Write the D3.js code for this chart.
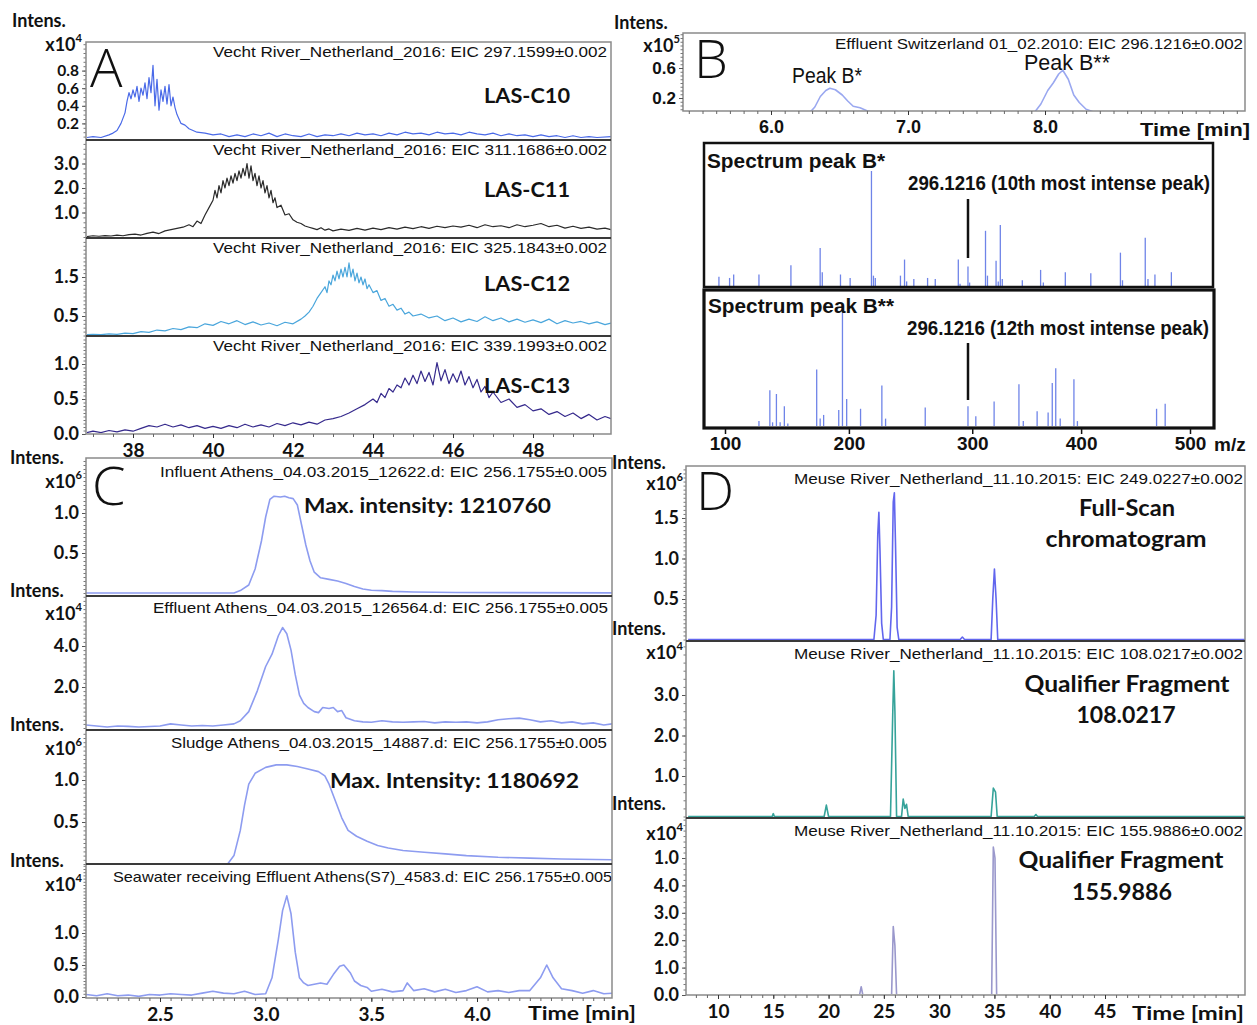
<!DOCTYPE html>
<html><head><meta charset="utf-8">
<script src="https://cdn.jsdelivr.net/npm/d3@7"></script>
<style>body{margin:0;background:#fff}svg{display:block}</style>
</head><body><svg id="c" width="1257" height="1025"></svg>
<script>
// ================= DATA =================
// Panel A: LAS homologues, time [min], intensity [x10^4]
const A_xTicks=[38,40,42,44,46,48];
const A_titles=["Vecht River_Netherland_2016:  EIC 297.1599\u00b10.002","Vecht River_Netherland_2016:  EIC 311.1686\u00b10.002","Vecht River_Netherland_2016:  EIC 325.1843\u00b10.002","Vecht River_Netherland_2016:  EIC 339.1993\u00b10.002"];
const A_names=["LAS-C10","LAS-C11","LAS-C12","LAS-C13"];
const A_C10_ticks=[0.2,0.4,0.6,0.8], A_C10_labels=["0.2","0.4","0.6","0.8"];
const A_C11_ticks=[1,2,3], A_C11_labels=["1.0","2.0","3.0"];
const A_C12_ticks=[0.5,1.5], A_C12_labels=["0.5","1.5"];
const A_C13_ticks=[0,0.5,1], A_C13_labels=["0.0","0.5","1.0"];
const A_C10=[[36.85,0.04],[37.0,0.05],[37.2,0.04],[37.4,0.07],[37.5,0.09],[37.6,0.12],[37.7,0.2],[37.8,0.32],[37.85,0.45],[37.9,0.55],[37.95,0.48],[38.0,0.58],[38.05,0.5],[38.1,0.62],[38.15,0.45],[38.2,0.6],[38.25,0.52],[38.3,0.66],[38.35,0.48],[38.4,0.72],[38.45,0.55],[38.5,0.86],[38.55,0.4],[38.6,0.7],[38.65,0.35],[38.7,0.58],[38.75,0.45],[38.8,0.62],[38.85,0.42],[38.9,0.64],[38.95,0.4],[39.0,0.5],[39.05,0.38],[39.1,0.3],[39.2,0.2],[39.3,0.18],[39.4,0.14],[39.5,0.12],[39.6,0.1],[39.8,0.09],[40.0,0.07],[40.2,0.08],[40.4,0.05],[40.6,0.07],[40.8,0.05],[41.0,0.08],[41.2,0.06],[41.4,0.09],[41.6,0.05],[41.8,0.08],[42.0,0.06],[42.2,0.05],[42.4,0.08],[42.6,0.05],[42.8,0.07],[43.0,0.06],[43.2,0.08],[43.4,0.06],[43.6,0.09],[43.8,0.07],[44.0,0.08],[44.2,0.06],[44.4,0.09],[44.6,0.07],[44.8,0.1],[45.0,0.08],[45.2,0.09],[45.4,0.07],[45.6,0.1],[45.8,0.08],[46.0,0.09],[46.2,0.07],[46.4,0.1],[46.6,0.08],[46.8,0.07],[47.0,0.09],[47.2,0.06],[47.4,0.08],[47.6,0.06],[47.8,0.07],[48.0,0.05],[48.2,0.07],[48.4,0.05],[48.6,0.06],[48.8,0.04],[49.0,0.06],[49.2,0.04],[49.4,0.05],[49.6,0.04],[49.95,0.05]];
const A_C11=[[36.85,0.02],[37.0,0.05],[37.15,0.03],[37.3,0.06],[37.45,0.04],[37.6,0.08],[37.75,0.05],[37.9,0.1],[38.05,0.12],[38.2,0.08],[38.35,0.15],[38.5,0.2],[38.65,0.14],[38.8,0.25],[38.95,0.3],[39.1,0.35],[39.25,0.4],[39.4,0.5],[39.5,0.42],[39.6,0.65],[39.7,0.55],[39.8,0.9],[39.9,1.2],[40.0,1.5],[40.05,1.9],[40.1,1.6],[40.15,2.1],[40.2,1.8],[40.25,2.3],[40.3,2.0],[40.35,2.4],[40.4,2.1],[40.45,2.5],[40.5,2.2],[40.55,2.6],[40.6,2.3],[40.65,2.7],[40.7,2.4],[40.75,2.8],[40.8,2.5],[40.85,3.0],[40.9,2.4],[40.95,2.9],[41.0,2.3],[41.05,2.6],[41.1,2.1],[41.15,2.5],[41.2,2.0],[41.25,2.3],[41.3,1.8],[41.35,2.1],[41.4,1.6],[41.45,1.9],[41.5,1.4],[41.55,1.6],[41.6,1.2],[41.7,1.3],[41.8,0.9],[41.9,0.95],[42.0,0.7],[42.1,0.6],[42.2,0.55],[42.3,0.45],[42.4,0.4],[42.5,0.35],[42.6,0.3],[42.7,0.38],[42.8,0.28],[42.9,0.33],[43.0,0.25],[43.2,0.32],[43.4,0.27],[43.6,0.35],[43.8,0.28],[44.0,0.36],[44.2,0.3],[44.4,0.38],[44.6,0.32],[44.8,0.4],[45.0,0.34],[45.2,0.42],[45.4,0.35],[45.6,0.44],[45.8,0.38],[46.0,0.45],[46.2,0.4],[46.4,0.48],[46.6,0.38],[46.8,0.5],[47.0,0.42],[47.2,0.46],[47.4,0.38],[47.6,0.5],[47.8,0.42],[48.0,0.48],[48.2,0.55],[48.4,0.42],[48.6,0.48],[48.8,0.36],[49.0,0.44],[49.2,0.35],[49.4,0.4],[49.6,0.32],[49.8,0.36],[49.95,0.3]];
const A_C12=[[36.85,0.02],[37.0,0.03],[37.2,0.02],[37.4,0.04],[37.6,0.03],[37.8,0.06],[38.0,0.05],[38.2,0.1],[38.4,0.08],[38.6,0.14],[38.8,0.12],[39.0,0.18],[39.2,0.15],[39.4,0.22],[39.6,0.2],[39.8,0.3],[40.0,0.26],[40.2,0.36],[40.4,0.3],[40.6,0.38],[40.8,0.28],[41.0,0.35],[41.2,0.27],[41.4,0.32],[41.6,0.25],[41.8,0.34],[42.0,0.3],[42.2,0.42],[42.3,0.5],[42.4,0.6],[42.5,0.75],[42.6,0.95],[42.7,1.1],[42.8,1.25],[42.85,1.1],[42.9,1.4],[42.95,1.3],[43.0,1.55],[43.05,1.4],[43.1,1.65],[43.15,1.45],[43.2,1.7],[43.25,1.5],[43.3,1.75],[43.35,1.5],[43.4,1.86],[43.45,1.5],[43.5,1.7],[43.55,1.4],[43.6,1.6],[43.65,1.35],[43.7,1.5],[43.75,1.3],[43.8,1.45],[43.85,1.2],[43.9,1.3],[44.0,1.1],[44.1,1.15],[44.2,0.9],[44.3,0.95],[44.4,0.75],[44.5,0.8],[44.6,0.65],[44.7,0.7],[44.8,0.55],[44.9,0.6],[45.0,0.5],[45.2,0.55],[45.4,0.45],[45.6,0.5],[45.8,0.38],[46.0,0.45],[46.2,0.35],[46.4,0.42],[46.6,0.36],[46.8,0.48],[47.0,0.38],[47.2,0.45],[47.4,0.35],[47.6,0.42],[47.8,0.34],[48.0,0.4],[48.2,0.33],[48.4,0.42],[48.6,0.3],[48.8,0.38],[49.0,0.32],[49.2,0.36],[49.4,0.3],[49.6,0.35],[49.8,0.28],[49.95,0.32]];
const A_C13=[[36.85,0.02],[37.0,0.04],[37.2,0.02],[37.4,0.05],[37.6,0.03],[37.8,0.06],[38.0,0.04],[38.2,0.08],[38.4,0.12],[38.6,0.1],[38.8,0.14],[39.0,0.1],[39.2,0.13],[39.4,0.09],[39.6,0.12],[39.8,0.08],[40.0,0.11],[40.2,0.08],[40.4,0.12],[40.6,0.09],[40.8,0.14],[41.0,0.1],[41.2,0.13],[41.4,0.1],[41.6,0.15],[41.8,0.12],[42.0,0.16],[42.2,0.13],[42.4,0.17],[42.6,0.14],[42.8,0.2],[43.0,0.22],[43.2,0.25],[43.4,0.3],[43.6,0.36],[43.8,0.42],[44.0,0.5],[44.1,0.45],[44.2,0.58],[44.3,0.52],[44.4,0.65],[44.5,0.6],[44.6,0.7],[44.7,0.66],[44.8,0.8],[44.9,0.7],[45.0,0.84],[45.1,0.72],[45.2,0.9],[45.3,0.75],[45.4,0.88],[45.5,0.7],[45.6,1.02],[45.7,0.76],[45.8,0.92],[45.9,0.72],[46.0,0.86],[46.1,0.74],[46.2,0.9],[46.3,0.7],[46.4,0.82],[46.5,0.66],[46.6,0.78],[46.7,0.6],[46.8,0.68],[46.9,0.52],[47.0,0.6],[47.2,0.45],[47.4,0.5],[47.6,0.38],[47.8,0.42],[48.0,0.33],[48.2,0.36],[48.4,0.28],[48.6,0.32],[48.8,0.25],[49.0,0.3],[49.2,0.22],[49.4,0.28],[49.6,0.2],[49.8,0.25],[49.95,0.22]];

// Panel B: chromatogram [x10^5] and two spectra (m/z, relative intensity %)
const B_xTicks=[6,7,8];
const B_yTicks=[0.2,0.6], B_yLabels=["0.2","0.6"];
const B_chrom=[[5.36,0],[6.28,0],[6.32,0.08],[6.36,0.22],[6.4,0.3],[6.43,0.33],[6.47,0.31],[6.52,0.24],[6.56,0.16],[6.6,0.09],[6.65,0.07],[6.7,0.03],[6.75,0],[7.92,0],[7.97,0.12],[8.02,0.3],[8.06,0.4],[8.1,0.52],[8.13,0.57],[8.17,0.45],[8.21,0.24],[8.25,0.14],[8.3,0.05],[8.36,0.01],[8.42,0],[9.46,0]];
const B_mzTicks=[100,200,300,400,500];
const B_specStar=[[95.1,8],[103.7,7],[107.0,10],[127.4,10],[153.2,18],[176.8,33],[178.5,12],[193.2,10],[201.0,7],[218.2,100],[219.8,9],[221.3,7],[241.6,9],[244.9,23],[246.6,4],[252.4,6],[263.5,7],[269.7,6],[288.3,23],[289.7,2],[296.1,17],[297.6,3],[312.2,48],[314.0,9],[321.9,22],[323.9,4],[325.8,53],[327.6,6],[346.0,5],[362.8,14],[365.3,3],[385.5,12],[408.9,11],[436.1,29],[438.0,5],[458.9,42],[461.4,6],[467.8,10],[482.9,12]];
const B_specStar2=[[127.4,4],[136.2,29],[138.4,3],[141.5,26],[144.5,3],[147.9,16],[150.7,2],[174.0,46],[176.8,6],[179.6,9],[191.8,13],[194.8,100],[198.2,22],[209.4,14],[226.6,33],[229.6,6],[261.6,15],[296.1,16],[303.3,8],[320.1,20],[342.9,34],[346.9,4],[359.6,12],[369.7,11],[373.5,35],[376.7,47],[380.8,6],[393.4,38],[396.6,4],[469.3,14],[477.2,18]];
const B_marker=296.12;

// Panel C: time [min]
const C_xTicks=[2.5,3.0,3.5,4.0];
const C_titles=["Influent Athens_04.03.2015_12622.d:  EIC 256.1755\u00b10.005","Effluent Athens_04.03.2015_126564.d:  EIC 256.1755\u00b10.005","Sludge Athens_04.03.2015_14887.d:  EIC 256.1755\u00b10.005","Seawater  receiving Effluent  Athens(S7)_4583.d: EIC 256.1755\u00b10.005"];
const C_infl_ticks=[0.5,1.0], C_infl_labels=["0.5","1.0"];
const C_effl_ticks=[2,4], C_effl_labels=["2.0","4.0"];
const C_sludge_ticks=[0.5,1.0], C_sludge_labels=["0.5","1.0"];
const C_sea_ticks=[0,0.5,1.0], C_sea_labels=["0.0","0.5","1.0"];
const C_influent=[[2.15,0],[2.85,0],[2.88,0.03],[2.92,0.1],[2.95,0.3],[2.98,0.65],[3.0,0.95],[3.02,1.17],[3.04,1.21],[3.07,1.2],[3.09,1.21],[3.11,1.19],[3.13,1.18],[3.15,1.1],[3.17,0.85],[3.19,0.6],[3.21,0.4],[3.23,0.26],[3.26,0.19],[3.3,0.17],[3.34,0.15],[3.38,0.12],[3.42,0.08],[3.46,0.05],[3.5,0.035],[3.55,0.03],[3.6,0.02],[3.7,0.012],[3.9,0.006],[4.64,0.002]];
const C_effluent=[[2.15,0.15],[2.2,0.1],[2.25,0.05],[2.3,0.1],[2.35,0.08],[2.4,0.05],[2.5,0.1],[2.55,0.2],[2.6,0.15],[2.65,0.1],[2.7,0.12],[2.75,0.1],[2.8,0.15],[2.85,0.2],[2.88,0.35],[2.92,0.8],[2.96,1.8],[3.0,3.0],[3.03,3.6],[3.06,4.5],[3.08,4.9],[3.1,4.6],[3.12,3.8],[3.14,2.6],[3.16,1.6],[3.18,1.2],[3.2,1.0],[3.23,0.8],[3.25,0.75],[3.27,1.0],[3.3,0.95],[3.32,1.0],[3.34,0.8],[3.36,0.85],[3.38,0.5],[3.42,0.35],[3.46,0.3],[3.5,0.28],[3.55,0.35],[3.6,0.3],[3.65,0.28],[3.7,0.3],[3.75,0.32],[3.8,0.25],[3.85,0.3],[3.9,0.28],[3.95,0.3],[4.0,0.25],[4.05,0.3],[4.1,0.4],[4.15,0.45],[4.2,0.48],[4.25,0.4],[4.3,0.3],[4.35,0.35],[4.4,0.25],[4.45,0.3],[4.5,0.2],[4.55,0.25],[4.6,0.15],[4.64,0.2]];
const C_sludge=[[2.15,0],[2.82,0],[2.85,0.1],[2.88,0.4],[2.9,0.7],[2.92,0.95],[2.95,1.08],[3.0,1.15],[3.05,1.18],[3.1,1.18],[3.15,1.16],[3.2,1.13],[3.25,1.1],[3.28,1.05],[3.3,0.95],[3.33,0.75],[3.36,0.55],[3.39,0.4],[3.43,0.33],[3.48,0.27],[3.53,0.22],[3.58,0.19],[3.65,0.16],[3.75,0.14],[3.85,0.12],[3.95,0.1],[4.1,0.08],[4.25,0.07],[4.4,0.06],[4.64,0.05]];
const C_seawater=[[2.15,0.04],[2.2,0.02],[2.25,0.05],[2.3,0.02],[2.35,0.03],[2.4,0.01],[2.45,0.04],[2.5,0.03],[2.55,0.05],[2.6,0.04],[2.65,0.03],[2.7,0.06],[2.75,0.09],[2.8,0.06],[2.85,0.05],[2.9,0.09],[2.95,0.04],[3.0,0.05],[3.03,0.3],[3.06,0.9],[3.08,1.35],[3.1,1.58],[3.12,1.3],[3.14,0.7],[3.16,0.3],[3.18,0.22],[3.2,0.18],[3.23,0.2],[3.26,0.22],[3.29,0.2],[3.32,0.35],[3.35,0.48],[3.37,0.5],[3.4,0.38],[3.42,0.25],[3.45,0.18],[3.48,0.15],[3.5,0.09],[3.55,0.12],[3.6,0.08],[3.65,0.1],[3.67,0.22],[3.7,0.1],[3.75,0.13],[3.8,0.08],[3.85,0.12],[3.9,0.07],[3.95,0.1],[4.0,0.16],[4.05,0.08],[4.1,0.1],[4.15,0.07],[4.2,0.1],[4.25,0.1],[4.3,0.3],[4.33,0.5],[4.36,0.3],[4.4,0.13],[4.45,0.1],[4.5,0.06],[4.55,0.1],[4.6,0.05],[4.64,0.06]];

// Panel D: time [min]
const D_xTicks=[10,15,20,25,30,35,40,45];
const D_titles=["Meuse River_Netherland_11.10.2015:  EIC 249.0227\u00b10.002","Meuse River_Netherland_11.10.2015:  EIC 108.0217\u00b10.002","Meuse River_Netherland_11.10.2015:  EIC 155.9886\u00b10.002"];
const D_full_ticks=[0.5,1.0,1.5], D_full_labels=["0.5","1.0","1.5"];
const D_q108_ticks=[1,2,3], D_q108_labels=["1.0","2.0","3.0"];
const D_q155_ticks=[0,1,2,3,4,5], D_q155_labels=["0.0","1.0","2.0","3.0","4.0","1.0"];
const D_full=[[7.3,0],[24.1,0],[24.3,0.3],[24.45,1.3],[24.55,1.57],[24.65,1.1],[24.8,0.2],[24.95,0],[25.55,0],[25.7,0.4],[25.85,1.7],[25.95,1.81],[26.05,1.2],[26.2,0.15],[26.35,0],[31.9,0],[32.1,0.03],[32.3,0],[34.7,0],[34.85,0.5],[35.0,0.87],[35.15,0.5],[35.3,0],[57.7,0]];
const D_q108=[[7.3,0],[14.9,0],[15.0,0.07],[15.1,0],[19.6,0],[19.8,0.28],[20.0,0],[25.6,0],[25.8,2.5],[25.9,3.6],[26.0,2.6],[26.15,0],[26.6,0],[26.75,0.43],[26.9,0.2],[27.05,0.3],[27.2,0],[34.7,0],[34.9,0.7],[35.1,0.6],[35.25,0],[38.6,0],[38.75,0.05],[38.9,0],[57.7,0]];
const D_q155=[[7.3,0],[22.8,0],[22.95,0.3],[23.1,0],[25.7,0],[25.85,2.5],[26.0,1.8],[26.15,0],[34.75,0],[34.9,5.4],[35.05,5.0],[35.2,0],[57.7,0]];

// ================= DRAWING =================
const svg=d3.select('#c');
const defs=svg.append('defs');
const LATO="Lato, 'Open Sans', sans-serif";
const ARIAL="'Liberation Sans', Arial, sans-serif";
const NARROW="'Liberation Sans Narrow', 'Liberation Sans', Arial, sans-serif";
let clipN=0;
function clip(x,y,w,h){const id='cp'+(clipN++);defs.append('clipPath').attr('id',id).append('rect').attr('x',x).attr('y',y).attr('width',w).attr('height',h);return `url(#${id})`;}
function txt(x,y,s,o={}){
  const t=svg.append('text').attr('x',x).attr('y',y).text(s)
    .attr('font-family',o.family||LATO).attr('font-size',o.size||14).attr('font-weight',o.weight||'normal')
    .attr('text-anchor',o.anchor||'start').attr('dominant-baseline',o.base||'central').attr('fill',o.fill||'#111');
  if(o.width) t.attr('textLength',o.width).attr('lengthAdjust','spacingAndGlyphs');
  return t;
}
function sup(x,y,base,exp,o={}){
  const t=svg.append('text').attr('x',x).attr('y',y).attr('font-family',LATO).attr('font-weight','bold')
    .attr('font-size',o.size||18).attr('text-anchor','end').attr('dominant-baseline','central').attr('fill','#111');
  t.append('tspan').text(base);
  t.append('tspan').text(exp).attr('font-size',(o.size||18)*0.62).attr('dy',-7);
}
function trace(data,x,y,color,w,cp){
  svg.append('path').datum(data).attr('clip-path',cp).attr('fill','none').attr('stroke',color)
    .attr('stroke-width',w).attr('stroke-linejoin','round')
    .attr('d',d3.line().x(d=>x(d[0])).y(d=>y(d[1])));
}
function rect(x0,y0,x1,y1,stroke,w){svg.append('rect').attr('x',x0).attr('y',y0).attr('width',x1-x0).attr('height',y1-y0).attr('fill','none').attr('stroke',stroke).attr('stroke-width',w);}
function hline(x0,x1,y,stroke,w){svg.append('line').attr('x1',x0).attr('x2',x1).attr('y1',y).attr('y2',y).attr('stroke',stroke).attr('stroke-width',w);}
function yAxis(x0,y,ticks,labels,top,bot,step,o={}){
  const lo=y.invert(bot), hi=y.invert(top);
  const g=svg.append('g').attr('transform',`translate(${x0},0)`)
    .call(d3.axisLeft(y).tickValues(d3.range(Math.ceil(lo/step)*step,hi,step)).tickSize(2.5).tickFormat(''));
  g.select('.domain').remove(); g.selectAll('line').attr('stroke','#777');
  const g2=svg.append('g').attr('transform',`translate(${x0},0)`)
    .call(d3.axisLeft(y).tickValues(ticks).tickFormat((d,i)=>labels[i]).tickSize(4).tickPadding(3));
  g2.select('.domain').remove(); g2.selectAll('line').attr('stroke','#555');
  g2.selectAll('text').attr('font-family',o.family||LATO).attr('font-weight','bold').attr('font-size',o.size||18).attr('fill','#111');
}
function xAxis(y0,x,ticks,fmt,minor,o={}){
  const g=svg.append('g').attr('transform',`translate(0,${y0})`)
    .call(d3.axisBottom(x).tickValues(minor).tickSize(3).tickFormat(''));
  g.select('.domain').remove(); g.selectAll('line').attr('stroke','#666');
  const g2=svg.append('g').attr('transform',`translate(0,${y0})`)
    .call(d3.axisBottom(x).tickValues(ticks).tickFormat(fmt).tickSize(o.tick||4).tickPadding(o.pad||6));
  g2.select('.domain').remove(); g2.selectAll('line').attr('stroke','#333');
  g2.selectAll('text').attr('font-family',o.family||LATO).attr('font-weight','bold').attr('font-size',o.size||19).attr('fill','#111');
}
function bigLetter(x,y,s){txt(x,y,s,{family:"'Open Sans', 'Liberation Sans', sans-serif",weight:300,size:54,base:'alphabetic'});}

// ---------- Panel A ----------
{
  const L=86,R=611;
  const x=d3.scaleLinear().domain([38,48]).range([133,533]);
  const subs=[
    {top:42,bot:140,y:d3.scaleLinear().domain([0,1]).range([141,53]),d:A_C10,c:'#4a6ae8',t:A_C10_ticks,l:A_C10_labels,step:0.05,ny:95,fs:15.5},
    {top:140,bot:238,y:d3.scaleLinear().domain([0,1]).range([237,212.5]),d:A_C11,c:'#2a2a2a',t:A_C11_ticks,l:A_C11_labels,step:0.2,ny:189,fs:18},
    {top:238,bot:336,y:d3.scaleLinear().domain([0,1]).range([335.5,296.5]),d:A_C12,c:'#4aa6dc',t:A_C12_ticks,l:A_C12_labels,step:0.1,ny:283,fs:18},
    {top:336,bot:434,y:d3.scaleLinear().domain([0,1]).range([434,364]),d:A_C13,c:'#35298c',t:A_C13_ticks,l:A_C13_labels,step:0.05,ny:385,fs:18}];
  subs.forEach((s,i)=>{
    trace(s.d,x,s.y,s.c,1.2,clip(L,s.top+1,R-L,s.bot-s.top-2));
    yAxis(L,s.y,s.t,s.l,s.top,s.bot,s.step,{size:s.fs});
    txt(607,s.top+10,A_titles[i],{family:NARROW,size:14.5,anchor:'end',width:394});
    txt(527,s.ny,A_names[i],{family:LATO,weight:'bold',size:20,anchor:'middle',width:86});
  });
  rect(L,42,R,434,'#8a8a8a',1.5);
  [140,238,336].forEach(v=>hline(L,R,v,'#3a3a3a',2.2));
  xAxis(434,x,A_xTicks,d=>d,d3.range(37,50,0.5),{size:19});
  txt(12,20,"Intens.",{weight:'bold',size:18});
  sup(82,44,"x10","4");
  bigLetter(90,87,"A");
}

// ---------- Panel B ----------
{
  const L=683,R=1245,T=33,Bm=111;
  const x=d3.scaleLinear().domain([6,8]).range([771,1045]);
  const y=d3.scaleLinear().domain([0,1]).range([113,38]);
  trace(B_chrom,x,y,'#9aa8f0',1.6,clip(L,T,R-L,Bm-T));
  rect(L,T,R,Bm,'#8a8a8a',1.5);
  yAxis(L,y,B_yTicks,B_yLabels,T,Bm,0.05,{family:ARIAL,size:17});
  xAxis(Bm,x,B_xTicks,d3.format('.1f'),d3.range(5.4,9.45,0.1),{family:ARIAL,size:18,pad:5});
  txt(1140,129,"Time [min]",{family:ARIAL,weight:'bold',size:19,width:110});
  txt(614,22,"Intens.",{weight:'bold',size:18});
  sup(680,45,"x10","5");
  txt(1243,44,"Effluent Switzerland 01_02.2010: EIC 296.1216\u00b10.002",{family:NARROW,size:14.5,anchor:'end',width:408});
  txt(792,75,"Peak B*",{family:NARROW,size:22,width:70});
  txt(1024,62,"Peak B**",{family:NARROW,size:22,width:86});
  bigLetter(694,78,"B");

  // spectra
  const mx=d3.scaleLinear().domain([100,B_marker,500]).range([725,968,1190]);
  const y1=d3.scaleLinear().domain([0,100]).range([286,171]);
  const y2=d3.scaleLinear().domain([0,100]).range([426,303]);
  svg.append('g').selectAll('line').data(B_specStar).join('line')
    .attr('x1',d=>mx(d[0])).attr('x2',d=>mx(d[0])).attr('y1',y1(0)).attr('y2',d=>y1(d[1]))
    .attr('stroke','#6f84e8').attr('stroke-width',1.3);
  svg.append('g').selectAll('line').data(B_specStar2).join('line')
    .attr('x1',d=>mx(d[0])).attr('x2',d=>mx(d[0])).attr('y1',y2(0)).attr('y2',d=>y2(d[1]))
    .attr('stroke','#6f84e8').attr('stroke-width',1.3);
  rect(704,143,1213,287,'#111',2.5);
  rect(704,290,1214,428,'#111',3.2);
  txt(707,160,"Spectrum peak B*",{family:NARROW,weight:'bold',size:21,width:178});
  txt(708,305,"Spectrum peak B**",{family:NARROW,weight:'bold',size:21,width:186});
  txt(908,183,"296.1216 (10th most intense peak)",{family:NARROW,weight:'bold',size:20,width:302});
  txt(907,328,"296.1216 (12th most intense peak)",{family:NARROW,weight:'bold',size:20,width:302});
  svg.append('line').attr('x1',mx(B_marker)).attr('x2',mx(B_marker)).attr('y1',199).attr('y2',258).attr('stroke','#111').attr('stroke-width',2.5);
  svg.append('line').attr('x1',mx(B_marker)).attr('x2',mx(B_marker)).attr('y1',343).attr('y2',400).attr('stroke','#111').attr('stroke-width',2.5);
  const g=svg.append('g').attr('transform','translate(0,429)')
    .call(d3.axisBottom(mx).tickValues(B_mzTicks).tickFormat(d=>d).tickSize(5).tickPadding(3));
  g.select('.domain').remove(); g.selectAll('line').attr('stroke','#111').attr('stroke-width',1.5);
  g.selectAll('text').attr('font-family',ARIAL).attr('font-weight','bold').attr('font-size',19).attr('fill','#111');
  txt(1214,444,"m/z",{family:ARIAL,weight:'bold',size:19});
}

// ---------- Panel C ----------
{
  const L=86,R=612;
  const x=d3.scaleLinear().domain([2.5,4.0]).range([160,477]);
  const subs=[
    {top:458,bot:596,y:d3.scaleLinear().domain([0,1]).range([593,513]),d:C_influent,t:C_infl_ticks,l:C_infl_labels,step:0.05,iy:457,ey:481,e:"6"},
    {top:596,bot:730,y:d3.scaleLinear().domain([0,1]).range([728,707.5]),d:C_effluent,t:C_effl_ticks,l:C_effl_labels,step:0.2,iy:590,ey:613,e:"4"},
    {top:730,bot:864,y:d3.scaleLinear().domain([0,1]).range([864,780]),d:C_sludge,t:C_sludge_ticks,l:C_sludge_labels,step:0.05,iy:724,ey:748,e:"6"},
    {top:864,bot:998,y:d3.scaleLinear().domain([0,1]).range([997,933]),d:C_seawater,t:C_sea_ticks,l:C_sea_labels,step:0.05,iy:860,ey:884,e:"4"}];
  subs.forEach((s,i)=>{
    trace(s.d,x,s.y,'#8d9cf0',1.6,clip(L,s.top+1,R-L,s.bot-s.top-2));
    yAxis(L,s.y,s.t,s.l,s.top,s.bot,s.step);
    txt(10,s.iy,"Intens.",{weight:'bold',size:18});
    sup(82,s.ey,"x10",s.e);
  });
  txt(607,472,C_titles[0],{family:NARROW,size:14.5,anchor:'end',width:447});
  txt(608,608,C_titles[1],{family:NARROW,size:14.5,anchor:'end',width:455});
  txt(607,743,C_titles[2],{family:NARROW,size:14.5,anchor:'end',width:436});
  txt(612,877,C_titles[3],{family:NARROW,size:14.5,anchor:'end',width:499});
  rect(L,458,R,998,'#8a8a8a',1.5);
  [596,730,864].forEach(v=>hline(L,R,v,'#3a3a3a',2.2));
  xAxis(998,x,C_xTicks,d3.format('.1f'),d3.range(2.2,4.64,0.05),{size:19,pad:6});
  txt(528,1012,"Time [min]",{weight:'bold',size:19,width:108});
  txt(304,504,"Max. intensity: 1210760",{weight:'bold',size:21,width:247});
  txt(330,779,"Max. Intensity: 1180692",{weight:'bold',size:21,width:249});
  bigLetter(92,505,"C");
}

// ---------- Panel D ----------
{
  const L=686,R=1245;
  const x=d3.scaleLinear().domain([10,45]).range([718,1105]);
  const subs=[
    {top:466,bot:641,y:d3.scaleLinear().domain([0,1]).range([639.5,558.5]),d:D_full,c:'#6266ee',t:D_full_ticks,l:D_full_labels,step:0.05,iy:462,ey:483,e:"6"},
    {top:641,bot:818,y:d3.scaleLinear().domain([0,1]).range([816.5,776]),d:D_q108,c:'#36a39a',t:D_q108_ticks,l:D_q108_labels,step:0.2,iy:628,ey:652,e:"4"},
    {top:818,bot:995,y:d3.scaleLinear().domain([0,1]).range([995,967.6]),d:D_q155,c:'#9a98cc',t:D_q155_ticks,l:D_q155_labels,step:0.2,iy:803,ey:833,e:"4"}];
  subs.forEach((s,i)=>{
    trace(s.d,x,s.y,s.c,1.6,clip(L,s.top+1,R-L,s.bot-s.top-2));
    yAxis(L,s.y,s.t,s.l,s.top,s.bot,s.step);
    txt(1243,s.top+13,D_titles[i],{family:NARROW,size:14.5,anchor:'end',width:449});
    txt(612,s.iy,"Intens.",{weight:'bold',size:18});
    sup(683,s.ey,"x10",s.e);
  });
  rect(L,466,R,995,'#8a8a8a',1.5);
  [641,818].forEach(v=>hline(L,R,v,'#3a3a3a',2.2));
  xAxis(995,x,D_xTicks,d=>d,d3.range(8,58,1),{size:19,pad:6});
  txt(1132,1012,"Time [min]",{weight:'bold',size:19,width:112});
  txt(1127,507,"Full-Scan",{weight:'bold',size:22,anchor:'middle',width:96});
  txt(1126,538,"chromatogram",{weight:'bold',size:22,anchor:'middle',width:161});
  txt(1127,683,"Qualifier Fragment",{weight:'bold',size:22,anchor:'middle',width:205});
  txt(1126,714,"108.0217",{weight:'bold',size:22,anchor:'middle',width:99});
  txt(1121,859,"Qualifier Fragment",{weight:'bold',size:22,anchor:'middle',width:205});
  txt(1122,891,"155.9886",{weight:'bold',size:22,anchor:'middle',width:100});
  bigLetter(696,510,"D");
}
</script>
</body></html>
